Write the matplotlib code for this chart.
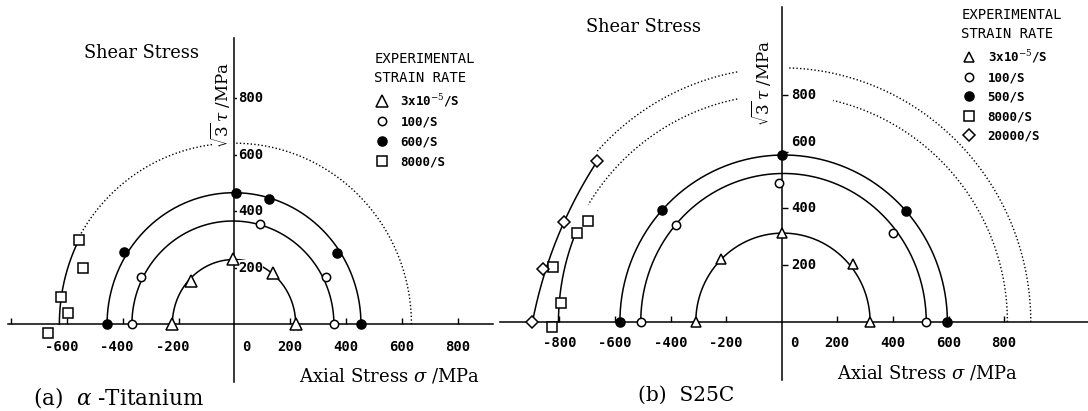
import numpy as np
import matplotlib
matplotlib.use("Agg")
import matplotlib.pyplot as plt

W, H = 1088, 411

# ---------------- data: (a) alpha-Titanium  (sigma, sqrt(3)tau in MPa) -------------
ti_rate_labels = [r"3x10$^{-5}$/S", "100/S", "600/S", "8000/S"]
ti_tri_x = [-222, -155, -4, 140, 220]
ti_tri_y = [0, 153, 229, 182, 0]
ti_o100_x = [-368, -334, 92, 327, 357]
ti_o100_y = [0, 166, 354, 166, 0]
ti_f600_x = [-457, -394, 6, 123, 369, 454]
ti_f600_y = [0, 254, 465, 442, 251, 0]
ti_s8000_x = [-557, -541, -622, -597, -669]
ti_s8000_y = [298, 198, 96, 41, -32]
# fitted yield loci: (centre x, semi-axis sigma, semi-axis sqrt3 tau)
ti_fit_tri = (-1, 221, 229)
ti_fit_o100 = (-5, 362, 365)
ti_fit_f600 = (-1, 455, 465)
ti_fit_s8000 = (0, 627, 650)
ti_fit_dotted = (0, 635, 640)

# ---------------- data: (b) S25C -------------------------------------------------
sc_rate_labels = [r"3x10$^{-5}$/S", "100/S", "500/S", "8000/S", "20000/S"]
sc_tri_x = [-309, -219, 0, 258, 318]
sc_tri_y = [0, 222, 313, 205, 0]
sc_o100_x = [-507, -381, -10, 402, 520]
sc_o100_y = [0, 340, 488, 313, 0]
sc_f500_x = [-582, -432, 0, 446, 596]
sc_f500_y = [0, 394, 588, 390, 0]
sc_s8000_x = [-696, -737, -822, -795, -825]
sc_s8000_y = [356, 314, 193, 68, -19]
sc_d20000_x = [-663, -783, -860, -897]
sc_d20000_y = [568, 353, 186, 0]
sc_fit_tri = (4.5, 313.5, 313)
sc_fit_o100 = (6.5, 513.5, 523)
sc_fit_f500 = (7, 589, 588)
sc_fit_s8000 = (0, 803, 813)
sc_fit_dot_in = (0, 812, 801)
sc_fit_dot_out = (0, 896, 895)
sc_fit_d20000_circle = (645, -303, 1571)   # centre x, centre y, radius

ti_xticks = [-800, -600, -400, -200, 200, 400, 600, 800]
ti_xlabels = [-600, -400, -200, 200, 400, 600, 800]
sc_xticks = [-800, -600, -400, -200, 200, 400, 600, 800]
sc_xlabels = [-800, -600, -400, -200, 200, 400, 600, 800]
yticks = [200, 400, 600, 800]

SERIF = "DejaVu Serif"
MONO = "DejaVu Sans Mono"
plt.rcParams["mathtext.fontset"] = "dejavuserif"

fig = plt.figure(figsize=(W / 100, H / 100), dpi=100)


def make_axes(px0, px1, orig, sx, sy):
    ax = fig.add_axes([px0 / W, 0, (px1 - px0) / W, 1])
    ax.set_facecolor("none")
    ax.set_xlim((px0 - orig[0]) / sx, (px1 - orig[0]) / sx)
    ax.set_ylim((orig[1] - H) / sy, orig[1] / sy)
    return ax


def style_axes(ax, xb, yb, xticks):
    for s in ("left", "top"):
        ax.spines[s].set_visible(False)
    ax.spines["bottom"].set_position(("data", 0))
    ax.spines["right"].set_position(("data", 0))
    ax.spines["bottom"].set_bounds(*xb)
    ax.spines["right"].set_bounds(*yb)
    for s in ("bottom", "right"):
        ax.spines[s].set_linewidth(1.1)
    ax.xaxis.set_ticks_position("bottom")
    ax.yaxis.set_ticks_position("right")
    ax.set_xticks(xticks)
    ax.set_yticks(yticks)
    ax.tick_params(axis="x", direction="in", length=4, width=1, labelbottom=False)
    ax.tick_params(axis="y", direction="out", length=4, width=1, labelright=False)


def ell_arc(ax, fit, x0, x1, **kw):
    cx, a, b = fit
    t0 = np.arccos(np.clip((x1 - cx) / a, -1, 1))
    t1 = np.arccos(np.clip((x0 - cx) / a, -1, 1))
    t = np.linspace(t0, t1, 300)
    ax.plot(cx + a * np.cos(t), b * np.sin(t), **kw)


def circ_left(ax, fit, y0, y1, **kw):
    xc, yc, r = fit
    y = np.linspace(y0, y1, 200)
    ax.plot(xc - np.sqrt(r ** 2 - (y - yc) ** 2), y, **kw)


solid = dict(color="black", lw=1.1, solid_capstyle="round")
dotted = dict(color="black", lw=1.0, linestyle=(0, (1, 1.6)))
mk = dict(color="black", linestyle="none", markeredgewidth=1.1, clip_on=False, zorder=5)


def tick_labels(ax, xl, yl, xdy, neg_dx, zero_dx, ydx, yoff):
    f = dict(family=MONO, fontweight="bold", fontsize=10)
    for v in xl:
        ax.annotate(str(v), (v, 0), xytext=(neg_dx if v < 0 else 0, xdy),
                    textcoords="offset points", ha="center", va="center", **f)
    ax.annotate("0", (0, 0), xytext=(zero_dx, xdy), textcoords="offset points",
                ha="center", va="center", **f)
    for v in yl:
        ax.annotate(str(v), (0, v), xytext=(ydx, yoff.get(v, 0)), textcoords="offset points",
                    ha="left", va="center",
                    bbox=dict(facecolor="white", edgecolor="none", pad=0.3), **f)


def legend(ax, handles, labels, x, y, spacing):
    lg = ax.legend(handles, labels, loc="upper left",
                   bbox_to_anchor=(x / W, 1 - y / H), bbox_transform=fig.transFigure,
                   frameon=False, title="EXPERIMENTAL\nSTRAIN RATE", alignment="left",
                   prop=dict(family=MONO, weight="bold", size=9),
                   title_fontproperties=dict(family=MONO, size=10),
                   handlelength=1.2, handletextpad=0.9, labelspacing=spacing, borderpad=0)
    lg.get_title().set_linespacing(1.45)
    return lg


# ============================ (a) alpha-Titanium ===============================
axL = make_axes(0, 500, (234.3, 324.3), 0.279, 0.283)
style_axes(axL, (-812, 928), (-204, 1012), ti_xticks)
ell_arc(axL, ti_fit_tri, -222, 222, **solid)
ell_arc(axL, ti_fit_o100, -367, 357, **solid)
ell_arc(axL, ti_fit_f600, -456, 454, **solid)
ell_arc(axL, ti_fit_s8000, -627, ti_s8000_x[0], **solid)
ell_arc(axL, ti_fit_dotted, ti_s8000_x[0], -80, **dotted)
ell_arc(axL, ti_fit_dotted, 5, 635, **dotted)
h1, = axL.plot(ti_tri_x, ti_tri_y, marker="^", ms=9, mfc="white", **mk)
h2, = axL.plot(ti_o100_x, ti_o100_y, marker="o", ms=6, mfc="white", **mk)
h3, = axL.plot(ti_f600_x, ti_f600_y, marker="o", ms=6.5, mfc="black", **mk)
h4, = axL.plot(ti_s8000_x, ti_s8000_y, marker="s", ms=6.5, mfc="white", **mk)
tick_labels(axL, ti_xlabels, yticks, -16.5, -4, 9, 2.5, {})
legend(axL, [h1, h2, h3, h4], ti_rate_labels, 368, 46, 0.55)

fig.text(141 / W, 1 - 53 / H, "Shear Stress", family=SERIF, fontsize=12.8, ha="center", va="center")
fig.text(390 / W, 1 - 376 / H, r"Axial Stress $\sigma$ /MPa", family=SERIF, fontsize=13,
         ha="center", va="center")
fig.text(220 / W, 1 - 105 / H, r"$\sqrt{3}\,\tau$ /MPa", family=SERIF, fontsize=12,
         rotation=90, ha="center", va="center")
fig.text(33 / W, 1 - 397 / H, r"(a)  $\alpha$ -Titanium", family=SERIF, fontsize=15.5,
         ha="left", va="center")

# ============================ (b) S25C ==========================================
axR = make_axes(490, 1088, (781.7, 322), 0.278, 0.284)
style_axes(axR, (-1013, 1102), (-204, 1109), sc_xticks)
ell_arc(axR, sc_fit_tri, -309, 318, **solid)
ell_arc(axR, sc_fit_o100, -507, 520, **solid)
ell_arc(axR, sc_fit_f500, -582, 596, **solid)
ell_arc(axR, sc_fit_s8000, -803, sc_s8000_x[1], **solid)
ell_arc(axR, sc_fit_dot_in, sc_s8000_x[0], -160, **dotted)
ell_arc(axR, sc_fit_dot_in, 185, 812, **dotted)
ell_arc(axR, sc_fit_dot_out, sc_d20000_x[0], -160, **dotted)
ell_arc(axR, sc_fit_dot_out, 25, 896, **dotted)
circ_left(axR, sc_fit_d20000_circle, 0, sc_d20000_y[0], **solid)
g1, = axR.plot(sc_tri_x, sc_tri_y, marker="^", ms=7.5, mfc="white", **mk)
g2, = axR.plot(sc_o100_x, sc_o100_y, marker="o", ms=6, mfc="white", **mk)
g3, = axR.plot(sc_f500_x, sc_f500_y, marker="o", ms=6.5, mfc="black", **mk)
g4, = axR.plot(sc_s8000_x, sc_s8000_y, marker="s", ms=6.5, mfc="white", **mk)
g5, = axR.plot(sc_d20000_x, sc_d20000_y, marker="D", ms=6.5, mfc="white", **mk)
tick_labels(axR, sc_xlabels, yticks, -15, 0, 9, 7, {600: 7})
legend(axR, [g1, g2, g3, g4, g5], sc_rate_labels, 955, 2, 0.52)

fig.text(643 / W, 1 - 27 / H, "Shear Stress", family=SERIF, fontsize=12.8, ha="center", va="center")
fig.text(928 / W, 1 - 373 / H, r"Axial Stress $\sigma$ /MPa", family=SERIF, fontsize=13,
         ha="center", va="center")
fig.text(761 / W, 1 - 83 / H, r"$\sqrt{3}\,\tau$ /MPa", family=SERIF, fontsize=12,
         rotation=90, ha="center", va="center")
fig.text(638 / W, 1 - 395 / H, "(b)  S25C", family=SERIF, fontsize=14.5, ha="left", va="center")

fig.savefig("out.png", dpi=100, facecolor="white")
